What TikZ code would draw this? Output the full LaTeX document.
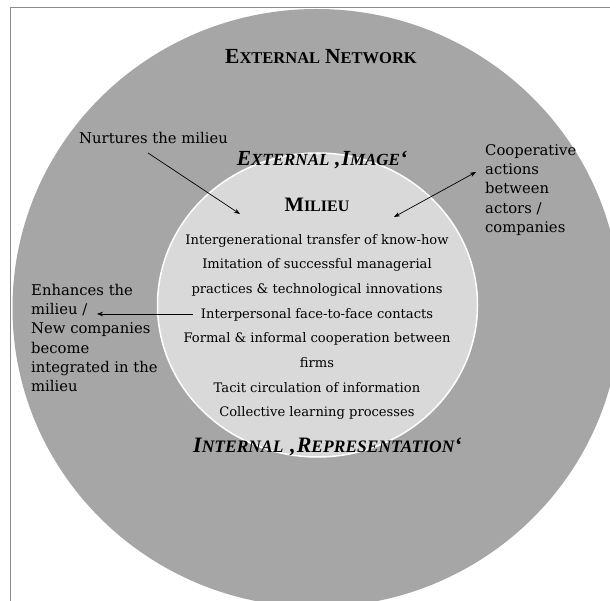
\documentclass[tikz,border=0pt]{standalone}
\usepackage{fontspec}
\setmainfont{DejaVu Serif}
\newfontfamily\headfont{Liberation Serif}
\usetikzlibrary{arrows.meta}
\definecolor{outergray}{HTML}{A6A6A6}
\definecolor{innergray}{HTML}{D9D9D9}
\definecolor{framegray}{HTML}{8C8C8C}
\newcommand\hsc[4]{{\fontsize{#1}{#1}\selectfont #3}{\fontsize{#2}{#2}\selectfont #4}}
\tikzset{
  heading/.style={font=\headfont\bfseries, inner sep=0pt, text=black},
  iheading/.style={font=\headfont\bfseries\itshape, inner sep=0pt, text=black},
  bodytext/.style={font=\fontsize{13.1}{24.7}\selectfont, align=center, inner sep=0pt, text=black},
  sidetext/.style={font=\fontsize{14.8}{19.2}\selectfont, align=left, inner sep=0pt, text=black},
  conn/.style={draw=black, line width=0.7pt, -{Stealth[length=6pt,width=4.5pt]}},
  dconn/.style={draw=black, line width=0.7pt, {Stealth[length=6pt,width=4.5pt]}-{Stealth[length=6pt,width=4.5pt]}}
}
\begin{document}
\begin{tikzpicture}[x=1pt,y=-1pt]
\useasboundingbox (0,0) rectangle (610,601);
\fill[white] (0,0) rectangle (610,601);
\begin{scope}
\clip (0,0) rectangle (610,601);
\draw[framegray, line width=0.8pt] (10,610) -- (10,7) -- (620,7);
\fill[outergray] (316.5,308) ellipse [x radius=304pt, y radius=299pt];
\draw[white, line width=1.5pt, fill=innergray] (317.5,305) ellipse [x radius=160pt, y radius=152pt];
\end{scope}

\node[heading] (net) at (321,57) {\hsc{21.5}{16.5}{E}{XTERNAL}\hspace{5pt}\hsc{21.5}{16.5}{N}{ETWORK}};
\node[iheading] (img) at (322,160) {\hsc{21.5}{17}{E}{XTERNAL}\hspace{5pt}\hsc{21.5}{17}{‚I}{MAGE}\hsc{21.5}{17}{‘}{}};
\node[heading] (mil) at (317,205) {\hsc{20.5}{16}{M}{ILIEU}};
\node[bodytext] (items) at (317,327) {Intergenerational transfer of know-how\\
Imitation of successful managerial\\
practices \& technological innovations\\
Interpersonal face-to-face contacts\\
Formal \& informal cooperation between\\
firms\\
Tacit circulation of information\\
Collective learning processes};
\node[iheading] (rep) at (327.5,447) {\hsc{22}{17.5}{I}{NTERNAL}\hspace{6pt}\hsc{22}{17.5}{‚R}{EPRESENTATION}\hsc{22}{17.5}{‘}{}};

\node[sidetext, anchor=west] (nurt) at (79,138) {Nurtures the milieu};
\node[sidetext, anchor=west] (coop) at (485,190) {Cooperative\\actions\\between\\actors /\\companies};
\node[sidetext, anchor=west] (enh) at (31,338) {Enhances the\\milieu /\\New companies\\become\\integrated in the\\milieu};

\coordinate (nurtA) at (148,153);
\coordinate (nurtB) at (240,214);
\coordinate (coopA) at (394,217);
\coordinate (coopB) at (476,172);
\coordinate (enhA) at (193,314);
\coordinate (enhB) at (97,314);

\draw[conn] (nurtA) -- (nurtB);
\draw[dconn] (coopA) -- (coopB);
\draw[conn] (enhA) -- (enhB);
\end{tikzpicture}
\end{document}
